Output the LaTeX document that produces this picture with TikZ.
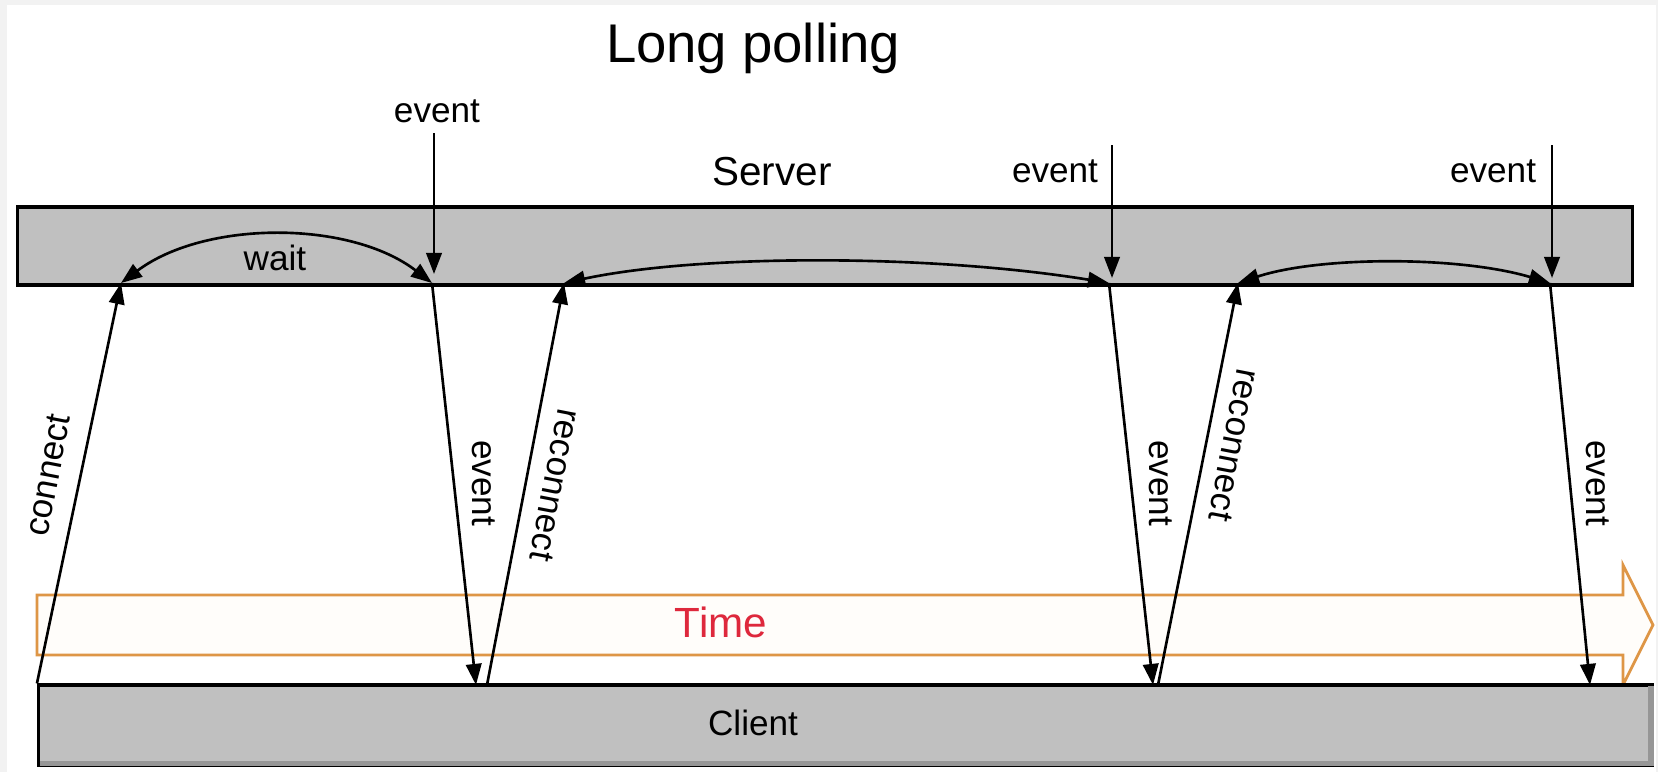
\documentclass[tikz,border=0pt]{standalone}
\usepackage{fontspec}
\setmainfont{Liberation Sans}
\usepackage{xcolor}
\usepackage{tikz}
\usetikzlibrary{arrows.meta}
\definecolor{barfill}{RGB}{192,192,192}
\definecolor{barshade}{RGB}{150,150,150}
\definecolor{timeline}{RGB}{222,150,70}
\definecolor{timefill}{RGB}{255,253,250}
\definecolor{timetext}{RGB}{222,40,60}
\definecolor{framegray}{RGB}{242,242,242}

\begin{document}
\begin{tikzpicture}[x=0.01cm,y=-0.01cm,
  bar/.style={draw,line width=0.9pt,fill=barfill,inner sep=0pt},
  msg/.style={line width=0.75pt,-{Triangle[length=6pt,width=4.4pt]}},
  waitarc/.style={line width=0.75pt,{Triangle[length=6pt,width=4.4pt]}-{Triangle[length=6pt,width=4.4pt]}},
  lbl/.style={font=\fontsize{10}{12}\selectfont,inner sep=0pt}]
\useasboundingbox (0,0) rectangle (1658,772);
\fill[framegray] (0,0) rectangle (1658,772);
\fill[white] (7,5) rectangle (1656,772);

\node[inner sep=0pt,anchor=base,font=\fontsize{15.5}{18}\selectfont] (title) at (753,62) {Long polling};

%server side
\node[bar,minimum width=16.14cm,minimum height=0.78cm] (server) at (825,246) {};
\node[inner sep=0pt,anchor=base,font=\fontsize{11.5}{14}\selectfont] (srvlbl) at (772,185) {Server};

%time arrow
\filldraw[draw=timeline,fill=timefill,line width=0.8pt](37,595)--(1623,595)--(1623,565)--(1653,625)--(1623,685)--(1623,655)--(37,655)--cycle;
\node[inner sep=0pt,anchor=base,text=timetext,font=\fontsize{12}{14}\selectfont] (time) at (721,637) {Time};

%client side
\node[bar,minimum width=16.13cm,minimum height=0.8cm] (client) at (845.5,725) {};
\draw[barshade,line width=1.6pt]([shift={(3,-3)}]client.south west)--([shift={(-3,-3)}]client.south east)--([shift={(-3,3)}]client.north east);
\node[lbl,anchor=base] (clilbl) at (753,735) {Client};

%points on the server bar
\coordinate (s1) at (121,283);
\coordinate (e1) at (432,283);
\coordinate (s2) at (564,283);
\coordinate (e2) at (1109,283);
\coordinate (s3) at (1238,283);
\coordinate (e3) at (1550,283);
%points on the client bar
\coordinate (d1) at (476,685);
\coordinate (r1) at (487,685);
\coordinate (d2) at (1153,685);
\coordinate (r2) at (1158,685);
\coordinate (d3) at (1590,685);

%incoming events
\node[lbl,anchor=base] (ev1) at (437,122) {event};
\node[lbl,anchor=base] (ev2) at (1055,182) {event};
\node[lbl,anchor=base] (ev3) at (1493,182) {event};
\coordinate (top1) at (434,133);
\coordinate (top2) at (1112,145);
\coordinate (top3) at (1552,145);
\draw[msg](top1)--(434,274);
\draw[msg](top2)--(1112,278);
\draw[msg](top3)--(1552,278);

%waiting on the server
\draw[waitarc](e1) .. controls (350,220) and (205,220) .. (s1);
\node[lbl,anchor=base] (wait) at (275,270) {wait};
\draw[waitarc](s2) .. controls (700,254) and (930,254) .. (e2);
\draw[waitarc](s3) .. controls (1320,256) and (1460,256) .. (e3);

%requests and responses
\draw[msg](client.north west)--(s1);
\draw[msg](e1)--(d1);
\draw[msg](r1)--(s2);
\draw[msg](e2)--(d2);
\draw[msg](r2)--(s3);
\draw[msg](e3)--(d3);
\node[lbl,rotate=79] (lconnect) at (48,475) {connect};
\node[lbl,rotate=-90] (lev1) at (484,483) {event};
\node[lbl,rotate=-101] (lrec1) at (555,485) {reconnect};
\node[lbl,rotate=-90] (lev2) at (1161,483) {event};
\node[lbl,rotate=-101] (lrec2) at (1234,445) {reconnect};
\node[lbl,rotate=-90] (lev3) at (1598,483) {event};
\end{tikzpicture}
\end{document}
